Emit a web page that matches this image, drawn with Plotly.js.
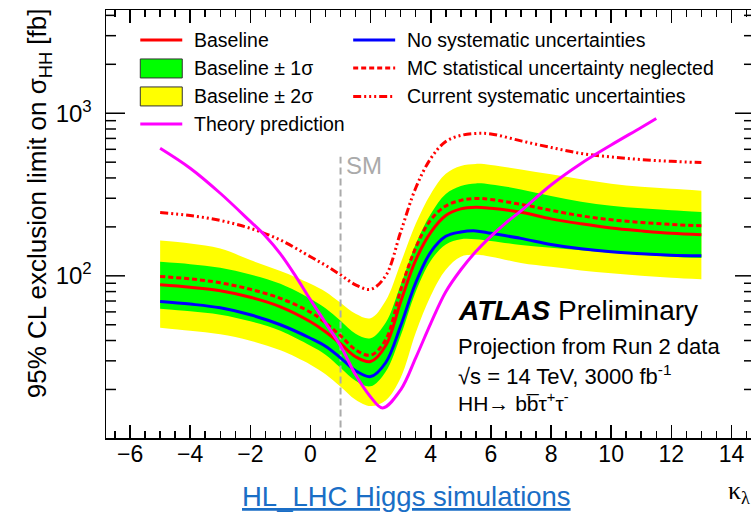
<!DOCTYPE html>
<html>
<head>
<meta charset="utf-8">
<script src="https://cdn.plot.ly/plotly-3.0.1.min.js"></script>
<style>
html,body{margin:0;padding:0;overflow:hidden;background:#fff;}
#chart{width:760px;height:513px;}
</style>
</head>
<body>
<div id="chart"></div>
<script>
// kappa_lambda grid for the limit curves
const kappa = [-5,-4,-3,-2,-1,0,0.5,1,1.5,2,2.5,3,3.5,4,4.5,5,5.5,6,7,8,9,10,11,12,13];
const baseline = [88.0,85.0,80.9,73.8,64.5,52.2,45.3,38.2,31.8,29.7,37.1,69.2,125,185,235,258,264,260,246,224,209,197,189,182.5,179];
const mcNeglected = [99.0,95.8,90.6,82.6,72.7,59.7,51.4,42.8,35.1,32.5,40.4,82.0,149,221,269,291,299,295,275,253,234,221,213,207,203];
const noSyst = [69.5,67.0,63.6,57.6,50.0,41.3,36.9,31.3,26.1,24.0,29.2,49.3,90.6,140,175,186,189,182.5,170,156,146.6,140.4,136.5,134,132.7];
const oneSigmaUp = [122,118,112,102,89.3,72.2,63.1,52.9,44.0,41.3,51.4,88.0,157,240,319,357,370,365,340,310,286,270,260,253,247];
const oneSigmaDown = [62.7,60.5,57.6,52.5,45.9,37.1,32.7,27.2,22.6,20.9,25.7,42.8,79.8,124,156,168,168,164,155,149,143.5,138.5,134.6,131.2,128.5];
const twoSigmaUp = [165,158,147,125,107,89.3,79.8,68.2,58.4,54.8,70.2,120,209,319,424,474,488,481,451,421,392,369,353,343,334];
const twoSigmaDown = [47.9,45.9,43.7,39.9,34.8,28.4,24.8,20.8,17.3,15.8,17.1,23.6,44.6,75.4,109,131,134.6,131,120,113.6,108,103.6,100,97.2,95.2];
const currentSyst = [245,235,219,196,166,131,116,101.4,88.0,82.6,100,186,347,527,671,730,751,746,676,616,566,539,519,506,497];
// theory prediction
const kappaTheory = [-5,-4,-3,-2,-1.5,-1,-0.5,0,0.5,1,1.5,2,2.4,3,3.5,4,4.5,5,5.5,6,6.5,7,8,9,10,11,11.5];
const theory = [609,459,322,216,176,136.5,100,71.2,51.4,37.1,24.6,18.0,15.4,19.9,31.3,51.0,79.8,109,141,175,212,251,362,491,638,818,929];
// SM marker
const smX = [1,1];
const smY = [10,540];
// axis ticks
const yTickVals = [100,1000];
const yTickText = ['10<sup>2</sup>','10<sup>3</sup>'];
const yMinorTicks = [20,30,40,50,60,70,80,90,200,300,400,500,600,700,800,900,2000,3000,4000];

const FONT = 'Liberation Sans, Arial, Helvetica, sans-serif';
const RED='#ff0000', GREEN='#00ff00', YELLOW='#ffff00', BLUE='#0000ff', MAG='#ff00ff';
const DASHDOT = '8px,3px,2px,3px,2px,3px,2px,3px';

const Lp=105.7, Rp=754, Tp=10, Bp=438.3;
const W = Rp-Lp;
const xRange = [-6.8,14.75];
const yRange = [1.0025,3.635];

// y-axis tick segments (inward on both sides), built from the tick arrays and the axis range
const tickX = [], tickY = [];
function addTick(v,lenPx){
  const d = lenPx*(xRange[1]-xRange[0])/W;
  tickX.push(xRange[0], xRange[0]+d, null, xRange[1], xRange[1]-d, null);
  tickY.push(v, v, null, v, v, null);
}
yTickVals.forEach(v=>addTick(v,19));
yMinorTicks.forEach(v=>addTick(v,10));

const sp = {shape:'spline', smoothing:1};
const traces = [
  {x:kappa, y:twoSigmaDown, mode:'lines', line:Object.assign({width:0,color:YELLOW},sp)},
  {x:kappa, y:twoSigmaUp, mode:'lines', line:Object.assign({width:0,color:YELLOW},sp), fill:'tonexty', fillcolor:YELLOW},
  {x:kappa, y:oneSigmaDown, mode:'lines', line:Object.assign({width:0,color:GREEN},sp)},
  {x:kappa, y:oneSigmaUp, mode:'lines', line:Object.assign({width:0,color:GREEN},sp), fill:'tonexty', fillcolor:GREEN},
  {x:smX, y:smY, mode:'lines', line:{width:2,color:'#aaaaaa',dash:'7px,4px'}},
  {x:kappa, y:currentSyst, mode:'lines', line:Object.assign({width:3,color:RED,dash:DASHDOT},sp)},
  {x:kappa, y:mcNeglected, mode:'lines', line:Object.assign({width:3,color:RED,dash:'5px,3px'},sp)},
  {x:kappa, y:baseline, mode:'lines', line:Object.assign({width:3,color:RED},sp)},
  {x:kappa, y:noSyst, mode:'lines', line:Object.assign({width:3,color:BLUE},sp)},
  {x:kappaTheory, y:theory, mode:'lines', line:Object.assign({width:3,color:MAG},sp)},
  {x:tickX, y:tickY, mode:'lines', line:{width:1.5,color:'#000'}, connectgaps:false, cliponaxis:false}
];
traces.forEach(t=>{t.showlegend=false; t.hoverinfo='skip';});

function PX(x){return (x-Lp)/(Rp-Lp);}
function PY(y){return (Bp-y)/(Bp-Tp);}

const shapes = [];
const annotations = [];
function legLine(x0,x1,y,color,dash){
  shapes.push({type:'line',xref:'paper',yref:'paper',x0:PX(x0),x1:PX(x1),y0:PY(y),y1:PY(y),line:{color:color,width:3,dash:dash||'solid'}});
}
function legBox(x0,x1,y0,y1,color){
  shapes.push({type:'rect',xref:'paper',yref:'paper',x0:PX(x0),x1:PX(x1),y0:PY(y0),y1:PY(y1),fillcolor:color,line:{color:'#333',width:1}});
}
function txt(x,y,text,size,opts){
  annotations.push(Object.assign({xref:'paper',yref:'paper',x:PX(x),y:PY(y),text:text,showarrow:false,xanchor:'left',yanchor:'middle',font:{family:FONT,size:size,color:'#000'}},opts||{}));
}
legLine(140,182,40,RED);
legBox(140,182,59,78,GREEN);
legBox(140,182,87,106,YELLOW);
legLine(140,182,124,MAG);
legLine(353,395,40,BLUE);
legLine(353,395,68,RED,'5px,3px');
legLine(353,395,96.5,RED,DASHDOT);
txt(192,40,'Baseline',19.5);
txt(192,68,'Baseline ± 1σ',19.5);
txt(192,96.5,'Baseline ± 2σ',19.5);
txt(192,124,'Theory prediction',19.5);
txt(405,40,'No systematic uncertainties',19.5);
txt(405,68,'MC statistical uncertainty neglected',19.5);
txt(405,96.5,'Current systematic uncertainties',19.5);

txt(344,166,'SM',24,{font:{family:FONT,size:24,color:'#aaaaaa'}});
txt(456,311,'<b><i>ATLAS</i></b> Preliminary',28);
txt(456,347,'Projection from Run 2 data',22);
txt(456,375,'√s = 14 TeV, 3000 fb<sup>-1</sup>',22);
txt(456,402,'HH→ bb\u0305τ<sup>+</sup>τ<sup>-</sup>',21);
txt(39,203,'95% CL exclusion limit on σ<sub>HH</sub> [fb]',26,{xanchor:'center',textangle:-90});
txt(739,492,'κ<sub>λ</sub>',26,{xanchor:'center',font:{family:'Liberation Serif, Times New Roman, serif',size:26,color:'#000'}});
txt(406,497,'<u>HL_LHC Higgs simulations</u>',27.5,{xanchor:'center',font:{family:FONT,size:27.5,color:'#1a6ec6'}});

const layout = {
  width:760, height:513,
  margin:{l:Lp, r:760-Rp, t:Tp, b:513-Bp},
  paper_bgcolor:'#fff', plot_bgcolor:'#fff',
  showlegend:false,
  font:{family:FONT,color:'#000'},
  xaxis:{range:xRange, tick0:0, dtick:2, ticks:'inside', ticklen:13, tickwidth:1.5, tickcolor:'#000',
    mirror:'ticks', showline:true, linewidth:1.5, linecolor:'#000', showgrid:false, zeroline:false,
    ticklabelstandoff:-5,
    tickfont:{family:FONT,size:23,color:'#000'},
    minor:{dtick:0.5, ticklen:7, ticks:'inside', tickwidth:1.5, tickcolor:'#000', showgrid:false}},
  yaxis:{type:'log', range:yRange, tickmode:'array', tickvals:yTickVals, ticktext:yTickText,
    ticks:'', mirror:true, showline:true, linewidth:1.5, linecolor:'#000', showgrid:false, zeroline:false,
    ticklabelstandoff:8,
    tickfont:{family:FONT,size:24,color:'#000'}},
  shapes:shapes,
  annotations:annotations
};
Plotly.newPlot('chart', traces, layout, {staticPlot:true, displayModeBar:false});
</script>
</body>
</html>
